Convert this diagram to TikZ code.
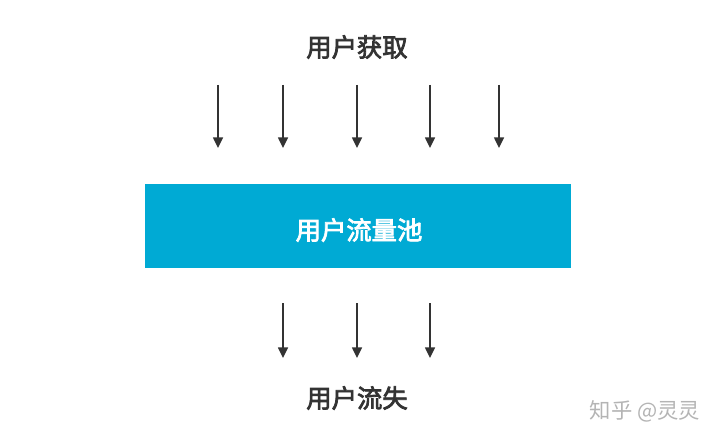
\documentclass[tikz,border=0pt]{standalone}
\usepackage{fontspec}
\newfontfamily\cjk{Noto Sans CJK SC}
\newfontfamily\cjkm[FakeBold=3]{Noto Sans CJK SC}
\usetikzlibrary{arrows.meta}
\definecolor{poolblue}{HTML}{00AAD4}
\definecolor{arrowgray}{HTML}{333333}
\definecolor{marktext}{HTML}{B4B4B4}
\tikzset{
  flowarrow/.style={draw=arrowgray, line width=1.1pt, -{Triangle[width=7.5pt,length=8pt]}},
  label/.style={font=\cjkm\fontsize{19pt}{22pt}\selectfont, text=arrowgray, inner sep=0pt},
}
\begin{document}
\begin{tikzpicture}[x=0.75pt,y=-0.75pt]
\useasboundingbox[fill=white] (0,0) rectangle (720,442);
\node[fill=poolblue, minimum width=426*0.75pt, minimum height=84*0.75pt, inner sep=0pt] (pool) at (358,226) {};
\node[label] (acq) at (357,47) {用户获取};
\node[label, text=white] (pooltext) at (359,230) {用户流量池};
\node[label] (loss) at (357,398) {用户流失};
\node[font=\cjk\fontsize{16pt}{18pt}\selectfont, text=marktext, inner sep=0pt] (mark) at (645,411) {知乎 @灵灵};
\foreach \i/\x in {1/218,2/283,3/357,4/430,5/499}{
  \coordinate (ts\i) at (\x,85);
  \coordinate (te\i) at (\x,148);
  \draw[flowarrow] (ts\i) -- (te\i);
}
\foreach \i/\x in {1/283,2/357,3/430}{
  \coordinate (bs\i) at (\x,303);
  \coordinate (be\i) at (\x,358);
  \draw[flowarrow] (bs\i) -- (be\i);
}
\end{tikzpicture}
\end{document}
